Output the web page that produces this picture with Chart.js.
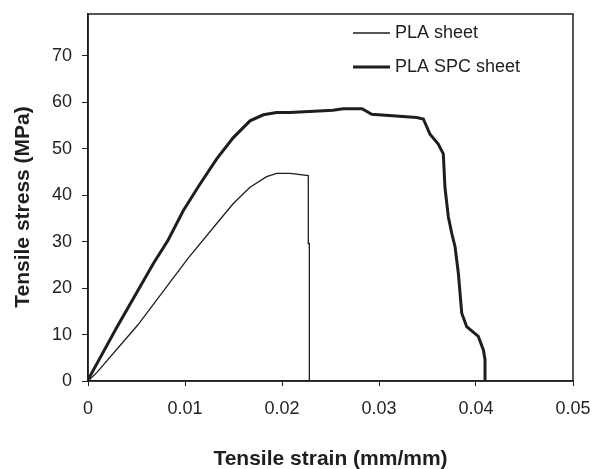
<!DOCTYPE html>
<html>
<head>
<meta charset="utf-8">
<script src="https://cdn.jsdelivr.net/npm/chart.js@4/dist/chart.umd.min.js"></script>
<style>
  html, body { margin: 0; padding: 0; background: #fff; }
  #wrap { width: 593px; height: 469px; }
</style>
</head>
<body>
<div id="wrap"><canvas id="tensile" width="593" height="469"></canvas></div>
<script>
// PLA sheet (thin line)
const plaStrain = [0, 0.0009, 0.00515, 0.01031, 0.01327, 0.01498, 0.0167, 0.01842, 0.01945, 0.02082, 0.02271, 0.02271, 0.02282, 0.02282];
const plaStress = [0, 1.8, 12.1, 26.4, 33.9, 38.2, 41.7, 44.0, 44.7, 44.7, 44.2, 29.6, 29.6, 0];

// PLA SPC sheet (thick line)
const spcStrain = [0, 0.0002, 0.00296, 0.00674, 0.00825, 0.00983, 0.01155, 0.01327, 0.01498, 0.0167, 0.01808, 0.01945, 0.02082,
  0.02526, 0.02629, 0.02825, 0.02925, 0.03389, 0.03457, 0.03526, 0.03611, 0.03663, 0.0368, 0.03715, 0.0375,
  0.03784, 0.03818, 0.03853, 0.03904, 0.04024, 0.04076, 0.04093, 0.04093];
const spcStress = [0, 1, 11.5, 25.3, 30.3, 36.7, 42.4, 47.8, 52.4, 56.0, 57.3, 57.8, 57.8,
  58.3, 58.6, 58.6, 57.4, 56.7, 56.4, 53.1, 51.0, 48.9, 41.7, 35.3, 31.8,
  28.9, 23.2, 14.6, 11.7, 9.6, 6.7, 4.6, 0];

const seriesNames = ['PLA sheet', 'PLA SPC sheet'];
const xTitle = 'Tensile strain (mm/mm)';
const yTitle = 'Tensile stress (MPa)';

const ink = '#1e1e1e';
const toPoints = (xs, ys) => xs.map((x, i) => ({ x: x, y: ys[i] }));

// keep tick label overhang from shrinking the plot box
const noLabelPadding = (s) => {
  s.paddingTop = 0;
  s.paddingBottom = 0;
  s.paddingLeft = 0;
  s.paddingRight = 0;
};

const frameAndLabels = {
  id: 'frameAndLabels',
  afterDraw(chart) {
    const { ctx, chartArea: a } = chart;
    ctx.save();
    ctx.strokeStyle = ink;
    ctx.lineWidth = 1.5;
    ctx.strokeRect(a.left, a.top, a.right - a.left, a.bottom - a.top);

    // legend inside the plot, top right
    const lx = a.left + 265, ly = a.top + 19;
    const widths = [1.3, 3];
    ctx.fillStyle = ink;
    ctx.font = '18px "Liberation Sans", Arial, sans-serif';
    ctx.textBaseline = 'middle';
    ctx.textAlign = 'left';
    seriesNames.forEach((name, i) => {
      const y = ly + i * 34;
      ctx.beginPath();
      ctx.lineWidth = widths[i];
      ctx.moveTo(lx, y);
      ctx.lineTo(lx + 37, y);
      ctx.stroke();
      ctx.fillText(name, lx + 42, y);
    });

    // axis titles
    ctx.font = 'bold 21px "Liberation Sans", Arial, sans-serif';
    ctx.textAlign = 'center';
    ctx.fillText(xTitle, (a.left + a.right) / 2, 459);
    ctx.translate(23, 207);
    ctx.rotate(-Math.PI / 2);
    ctx.fillText(yTitle, 0, 0);
    ctx.restore();
  }
};

const tickFont = { family: '"Liberation Sans", Arial, sans-serif', size: 18 };

new Chart(document.getElementById('tensile'), {
  type: 'scatter',
  data: {
    datasets: [
      {
        label: seriesNames[0],
        data: toPoints(plaStrain, plaStress),
        showLine: true,
        borderColor: ink,
        borderWidth: 1.3,
        pointRadius: 0,
        tension: 0
      },
      {
        label: seriesNames[1],
        data: toPoints(spcStrain, spcStress),
        showLine: true,
        borderColor: ink,
        borderWidth: 3,
        pointRadius: 0,
        tension: 0
      }
    ]
  },
  options: {
    responsive: false,
    animation: false,
    layout: { padding: { top: 14, right: 20, left: 0, bottom: 0 } },
    plugins: { legend: { display: false }, tooltip: { enabled: false } },
    scales: {
      x: {
        type: 'linear',
        min: 0,
        max: 0.05,
        afterFit: (s) => { s.height = 88; noLabelPadding(s); },
        grid: { drawOnChartArea: false, drawTicks: true, tickLength: 5, color: ink },
        border: { display: true, color: ink, width: 1.5 },
        ticks: {
          stepSize: 0.01,
          maxRotation: 0,
          padding: 12,
          color: '#222',
          font: tickFont,
          callback: (v) => String(+v.toFixed(2))
        }
      },
      y: {
        min: 0,
        max: 79,
        afterFit: (s) => { s.width = 88; noLabelPadding(s); },
        grid: { drawOnChartArea: false, drawTicks: true, tickLength: 6, color: ink },
        border: { display: true, color: ink, width: 1.5 },
        ticks: {
          stepSize: 10,
          includeBounds: false,
          padding: 10,
          color: '#222',
          font: tickFont
        }
      }
    }
  },
  plugins: [frameAndLabels]
});
</script>
</body>
</html>
